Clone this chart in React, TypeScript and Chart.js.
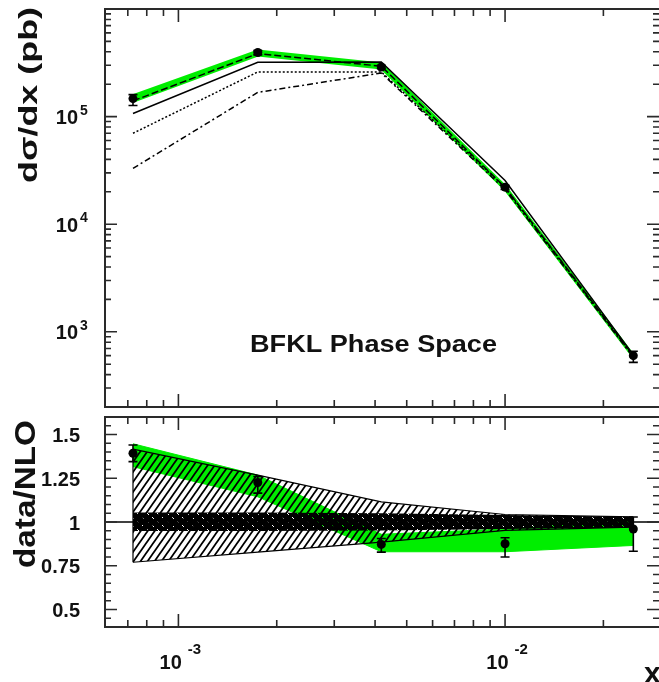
import React, { useEffect, useRef } from 'react';
import { Chart, registerables } from 'chart.js';

Chart.register(...registerables);

// ---- axis ranges ----
const X_MIN = 5.96e-4;
const X_MAX = 0.0296;
const Y_TOP_MIN = 200;
const Y_TOP_MAX = 1e6;
const Y_RATIO_MIN = 0.4;
const Y_RATIO_MAX = 1.6;

// ---- data (bin centres in x) ----
const xBins = [7.26e-4, 1.75e-3, 4.18e-3, 1.0e-2, 2.47e-2];

// top panel: dsigma/dx (pb)
const dataXsec = [1.47e5, 3.94e5, 2.89e5, 2.21e4, 600];
const dataXsecErrLo = [1.27e5, 3.75e5, 2.78e5, 2.1e4, 520];
const dataXsecErrHi = [1.6e5, 4.1e5, 3.0e5, 2.3e4, 660];
const nloBandHi = [1.58e5, 4.12e5, 3.12e5, 2.28e4, 610];
const nloBandLo = [1.37e5, 3.7e5, 2.8e5, 2.08e4, 575];
const dashedCurve = [1.4e5, 3.85e5, 2.94e5, 2.2e4, 600];
const solidCurve = [1.07e5, 3.2e5, 3.22e5, 2.55e4, 610];
const dottedCurve = [7.0e4, 2.6e5, 2.6e5, 2.2e4, 590];
const dashDotCurve = [3.3e4, 1.68e5, 2.54e5, 2.1e4, 580];

// bottom panel: data/NLO
const ratioData = [1.393, 1.226, 0.872, 0.876, 0.96];
const ratioErrLo = [1.345, 1.165, 0.828, 0.8, 0.833];
const ratioErrHi = [1.44, 1.26, 0.906, 0.91, 1.029];
const greenHi = [1.447, 1.268, 0.93, 0.96, 1.01];
const greenLo = [1.316, 1.144, 0.83, 0.83, 0.866];
const hatchHi = [1.416, 1.268, 1.115, 1.043, 1.029];
const hatchLo = [0.77, 0.828, 0.885, 0.952, 0.971];
const innerHi = [1.055, 1.055, 1.05, 1.04, 1.03];
const innerLo = [0.948, 0.948, 0.952, 0.96, 0.968];

// ---- tick labels ----
const xTickValues = [1e-3, 1e-2];
const xTickExponents = ['-3', '-2'];
const yTopTickValues = [1e3, 1e4, 1e5];
const yTopTickExponents = ['3', '4', '5'];
const yRatioTickValues = [0.5, 0.75, 1, 1.25, 1.5];
const yRatioTickLabels = ['0.5', '0.75', '1', '1.25', '1.5'];

const FONT = '"Liberation Sans", Arial, Helvetica, sans-serif';
const GREEN = '#00ee00';
const INK = '#111';
const FRAME = '#2a2a2a';
const BOTTOM_OFFSET = 412;

type Tick = { v: number; major: boolean };

function logTicks(min: number, max: number): Tick[] {
  const out: Tick[] = [];
  for (let e = Math.floor(Math.log10(min)); e <= Math.ceil(Math.log10(max)); e++) {
    for (let k = 1; k <= 9; k++) {
      const v = k * Math.pow(10, e);
      if (v >= min && v <= max) out.push({ v, major: k === 1 });
    }
  }
  return out;
}

function linTicks(min: number, max: number, step: number, majorStep: number): Tick[] {
  const out: Tick[] = [];
  for (let i = Math.ceil(min / step - 1e-6); i <= Math.floor(max / step + 1e-6); i++) {
    const v = i * step;
    const r = v / majorStep;
    out.push({ v, major: Math.abs(r - Math.round(r)) < 1e-6 });
  }
  return out;
}

const xTicks = logTicks(X_MIN, X_MAX);
const yTopTicks = logTicks(Y_TOP_MIN, Y_TOP_MAX);
const yRatioTicks = linTicks(Y_RATIO_MIN, Y_RATIO_MAX, 0.05, 0.25);

function drawFrame(chart: any, yTicks: Tick[]) {
  const { ctx, chartArea: a } = chart;
  const xs = chart.scales.x;
  const ys = chart.scales.y;
  ctx.save();
  ctx.strokeStyle = FRAME;
  ctx.lineWidth = 2;
  ctx.beginPath();
  ctx.moveTo(a.right + 2, a.top);
  ctx.lineTo(a.left, a.top);
  ctx.lineTo(a.left, a.bottom);
  ctx.lineTo(a.right + 2, a.bottom);
  ctx.stroke();
  ctx.lineWidth = 1.6;
  ctx.beginPath();
  for (const t of xTicks) {
    const px = xs.getPixelForValue(t.v);
    if (px < a.left + 3 || px > a.right - 2) continue;
    const L = t.major ? 13 : 7;
    ctx.moveTo(px, a.top);
    ctx.lineTo(px, a.top + L);
    ctx.moveTo(px, a.bottom);
    ctx.lineTo(px, a.bottom - L);
  }
  for (const t of yTicks) {
    const py = ys.getPixelForValue(t.v);
    if (py < a.top + 2 || py > a.bottom - 2) continue;
    const L = t.major ? 12 : 6;
    ctx.moveTo(a.left, py);
    ctx.lineTo(a.left + L, py);
    ctx.moveTo(a.right, py);
    ctx.lineTo(a.right - L, py);
  }
  ctx.stroke();
  ctx.restore();
}

function rotatedTitle(ctx: CanvasRenderingContext2D, s: string, baseX: number, cy: number, size: number, len: number) {
  ctx.save();
  ctx.font = `bold ${size}px ${FONT}`;
  ctx.fillStyle = INK;
  ctx.translate(baseX, cy);
  ctx.rotate(-Math.PI / 2);
  const w = ctx.measureText(s).width;
  ctx.scale(len / w, 1);
  ctx.textAlign = 'center';
  ctx.textBaseline = 'alphabetic';
  ctx.fillText(s, 0, 0);
  ctx.restore();
}

function fitText(ctx: CanvasRenderingContext2D, s: string, cx: number, baseY: number, size: number, width: number) {
  ctx.save();
  ctx.font = `bold ${size}px ${FONT}`;
  ctx.fillStyle = INK;
  const w = ctx.measureText(s).width;
  ctx.translate(cx, baseY);
  ctx.scale(width / w, 1);
  ctx.textAlign = 'center';
  ctx.textBaseline = 'alphabetic';
  ctx.fillText(s, 0, 0);
  ctx.restore();
}

const errorBars = (values: number[], lo: number[], hi: number[]) => ({
  id: 'errorBars',
  afterDatasetsDraw(chart: any) {
    const { ctx } = chart;
    const xs = chart.scales.x;
    const ys = chart.scales.y;
    ctx.save();
    ctx.strokeStyle = '#000';
    ctx.lineWidth = 1.6;
    ctx.beginPath();
    xBins.forEach((x, i) => {
      const px = xs.getPixelForValue(x);
      const y1 = ys.getPixelForValue(lo[i]);
      const y2 = ys.getPixelForValue(hi[i]);
      ctx.moveTo(px, y1);
      ctx.lineTo(px, y2);
      ctx.moveTo(px - 4.5, y1);
      ctx.lineTo(px + 4.5, y1);
      ctx.moveTo(px - 4.5, y2);
      ctx.lineTo(px + 4.5, y2);
    });
    ctx.stroke();
    ctx.fillStyle = '#000';
    xBins.forEach((x, i) => {
      const px = xs.getPixelForValue(x);
      const py = ys.getPixelForValue(values[i]);
      ctx.beginPath();
      ctx.arc(px, py, 4.5, 0, Math.PI * 2);
      ctx.fill();
    });
    ctx.restore();
  },
});

const topDecor = {
  id: 'topDecor',
  afterDraw(chart: any) {
    const { ctx } = chart;
    drawFrame(chart, yTopTicks);
    const ys = chart.scales.y;
    ctx.save();
    ctx.fillStyle = INK;
    yTopTickValues.forEach((v, i) => {
      const py = ys.getPixelForValue(v);
      ctx.font = `bold 20px ${FONT}`;
      ctx.textAlign = 'right';
      ctx.textBaseline = 'alphabetic';
      ctx.fillText('10', 78, py + 7.5);
      ctx.font = `bold 14px ${FONT}`;
      ctx.textAlign = 'left';
      ctx.fillText(yTopTickExponents[i], 80, py - 2);
    });
    ctx.restore();
    rotatedTitle(ctx, 'd\u03c3/dx (pb)', 37, 95, 26, 176);
    fitText(ctx, 'BFKL Phase Space', 373.5, 352, 24, 247);
  },
};

const bottomDecor = {
  id: 'bottomDecor',
  afterDraw(chart: any) {
    const { ctx, chartArea: a } = chart;
    drawFrame(chart, yRatioTicks);
    const xs = chart.scales.x;
    const ys = chart.scales.y;
    ctx.save();
    ctx.fillStyle = INK;
    ctx.textBaseline = 'alphabetic';
    yRatioTickValues.forEach((v, i) => {
      const py = ys.getPixelForValue(v);
      ctx.font = `bold 20px ${FONT}`;
      ctx.textAlign = 'right';
      ctx.fillText(yRatioTickLabels[i], 80, py + 7.5);
    });
    xTickValues.forEach((v, i) => {
      const px = xs.getPixelForValue(v);
      ctx.font = `bold 20px ${FONT}`;
      const w1 = ctx.measureText('10').width;
      ctx.font = `bold 15px ${FONT}`;
      const w2 = ctx.measureText(xTickExponents[i]).width;
      const gap = 6;
      const start = px + 2 - (w1 + gap + w2) / 2;
      ctx.textAlign = 'left';
      ctx.font = `bold 20px ${FONT}`;
      ctx.fillText('10', start, a.bottom + 42);
      ctx.font = `bold 15px ${FONT}`;
      ctx.fillText(xTickExponents[i], start + w1 + gap, a.bottom + 27);
    });
    ctx.font = `bold 30px ${FONT}`;
    ctx.textAlign = 'left';
    ctx.fillText('x', 644, 683 - BOTTOM_OFFSET);
    ctx.restore();
    rotatedTitle(ctx, 'data/NLO', 35, 494 - BOTTOM_OFFSET, 30, 148);
  },
};

function makeHatch(): CanvasPattern {
  const w = 7;
  const h = 10;
  const c = document.createElement('canvas');
  c.width = w;
  c.height = h;
  const g = c.getContext('2d')!;
  g.strokeStyle = '#000';
  g.lineWidth = 1.8;
  g.beginPath();
  for (let n = 0; n <= 2; n++) {
    // line x/w + y/h = n, extended beyond tile
    g.moveTo(n * w - 2 * w, 2 * h);
    g.lineTo(n * w + 2 * w, -2 * h);
  }
  g.stroke();
  return g.createPattern(c, 'repeat')!;
}

function makeDense(): CanvasPattern {
  const c = document.createElement('canvas');
  c.width = 10;
  c.height = 8;
  const g = c.getContext('2d')!;
  g.fillStyle = '#000';
  g.fillRect(0, 0, 10, 8);
  g.clearRect(2, 1, 1, 1);
  g.clearRect(3, 2, 1, 1);
  g.clearRect(7, 5, 1, 1);
  g.clearRect(8, 6, 1, 1);
  return g.createPattern(c, 'repeat')!;
}

const pts = (ys: number[]) => xBins.map((x, i) => ({ x, y: ys[i] }));
const curve = (label: string, ys: number[], extra: any) => ({
  label,
  data: pts(ys),
  pointRadius: 0,
  borderColor: '#000',
  backgroundColor: 'transparent',
  borderWidth: 1.5,
  fill: false,
  tension: 0,
  ...extra,
});

export default function App() {
  const topRef = useRef<HTMLCanvasElement | null>(null);
  const botRef = useRef<HTMLCanvasElement | null>(null);

  useEffect(() => {
    const hatch = makeHatch();
    const dense = makeDense();

    const top = new Chart(topRef.current!, {
      type: 'line',
      data: {
        datasets: [
          curve('dashed', dashedCurve, { borderDash: [7, 3], order: 1 }),
          curve('solid', solidCurve, { order: 2 }),
          curve('dotted', dottedCurve, { borderDash: [2, 2], order: 3 }),
          curve('dash-dot', dashDotCurve, { borderDash: [6, 3, 2, 3], order: 4 }),
          curve('NLO band up', nloBandHi, { borderColor: GREEN, backgroundColor: GREEN, borderWidth: 2, fill: '+1', order: 10 }),
          curve('NLO band low', nloBandLo, { borderColor: GREEN, borderWidth: 2, order: 10 }),
        ],
      },
      options: {
        responsive: false,
        animation: false,
        events: [],
        layout: { padding: { left: 105, right: 0, top: 9, bottom: 5 } },
        scales: {
          x: { type: 'logarithmic', min: X_MIN, max: X_MAX, display: false },
          y: { type: 'logarithmic', min: Y_TOP_MIN, max: Y_TOP_MAX, display: false },
        },
        plugins: { legend: { display: false }, tooltip: { enabled: false } },
      } as any,
      plugins: [errorBars(dataXsec, dataXsecErrLo, dataXsecErrHi), topDecor],
    });

    const bottom = new Chart(botRef.current!, {
      type: 'line',
      data: {
        datasets: [
          {
            label: 'unity',
            data: [{ x: X_MIN, y: 1 }, { x: X_MAX, y: 1 }],
            borderColor: '#000',
            borderWidth: 1.5,
            pointRadius: 0,
            fill: false,
            order: 1,
          },
          curve('inner up', innerHi, { borderWidth: 0, backgroundColor: dense, fill: '+1', order: 2 }),
          curve('inner low', innerLo, { borderWidth: 0, order: 2 }),
          curve('hatch up', hatchHi, { borderWidth: 1.2, backgroundColor: hatch, fill: '+1', order: 3 }),
          curve('hatch low', hatchLo, { borderWidth: 1.2, order: 3 }),
          {
            label: 'hatch left edge',
            data: [{ x: xBins[0], y: hatchLo[0] }, { x: xBins[0], y: hatchHi[0] }],
            borderColor: '#000', borderWidth: 1.2, pointRadius: 0, fill: false, order: 3,
          },
          {
            label: 'hatch right edge',
            data: [{ x: xBins[4], y: hatchLo[4] }, { x: xBins[4], y: hatchHi[4] }],
            borderColor: '#000', borderWidth: 1.2, pointRadius: 0, fill: false, order: 3,
          },
          curve('green up', greenHi, { borderColor: GREEN, backgroundColor: GREEN, borderWidth: 1, fill: '+1', order: 4 }),
          curve('green low', greenLo, { borderColor: GREEN, borderWidth: 1, order: 4 }),
        ],
      },
      options: {
        responsive: false,
        animation: false,
        events: [],
        layout: { padding: { left: 105, right: 0, top: 5, bottom: 55 } },
        scales: {
          x: { type: 'logarithmic', min: X_MIN, max: X_MAX, display: false },
          y: { type: 'linear', min: Y_RATIO_MIN, max: Y_RATIO_MAX, display: false },
        },
        plugins: { legend: { display: false }, tooltip: { enabled: false } },
      } as any,
      plugins: [errorBars(ratioData, ratioErrLo, ratioErrHi), bottomDecor],
    });

    return () => {
      top.destroy();
      bottom.destroy();
    };
  }, []);

  return (
    <div style={{ position: 'absolute', left: 0, top: 0, width: 659, height: 682, background: '#fff', overflow: 'hidden' }}>
      <canvas ref={topRef} width={659} height={BOTTOM_OFFSET} style={{ position: 'absolute', left: 0, top: 0, display: 'block' }} />
      <canvas ref={botRef} width={659} height={682 - BOTTOM_OFFSET} style={{ position: 'absolute', left: 0, top: BOTTOM_OFFSET, display: 'block' }} />
    </div>
  );
}
